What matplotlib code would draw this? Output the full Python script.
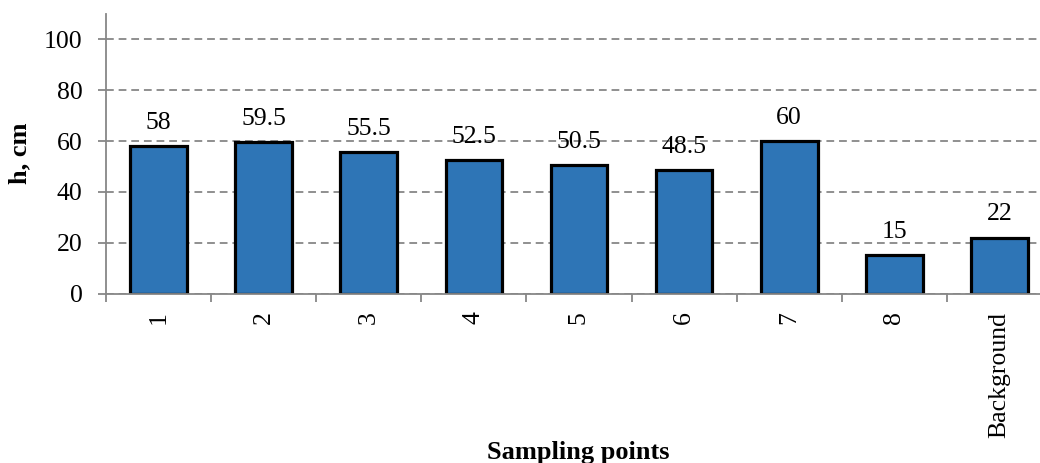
import numpy as np
import matplotlib.pyplot as plt

plt.rcParams['font.family'] = ['Liberation Serif', 'DejaVu Serif']

points = ['1', '2', '3', '4', '5', '6', '7', '8', 'Background']
heights = [58, 59.5, 55.5, 52.5, 50.5, 48.5, 60, 15, 22]
value_labels = ['58', '59.5', '55.5', '52.5', '50.5', '48.5', '60', '15', '22']

fig = plt.figure(figsize=(10.4, 4.63), dpi=100)
# axes runs slightly past the right edge of the canvas
ax = fig.add_axes([106 / 1040, (463 - 293.5) / 463, 946 / 1040, 279.5 / 463])

x = np.arange(len(points))
ax.bar(x, heights, width=0.54, color='#2E75B6', edgecolor='black', linewidth=2.3, zorder=3)

for xi, h, lab in zip(x, heights, value_labels):
    ax.annotate(lab, (xi, h), xytext=(0, 9), textcoords='offset points',
                ha='center', va='bottom', fontsize=18.5, zorder=4)

ax.set_xlim(-0.5, len(points) - 0.5)
ax.set_ylim(0, 110)
ax.set_yticks(range(0, 101, 20))
ax.yaxis.grid(True, linestyle=(0, (4.3, 2.7)), color='#878787', linewidth=1.3, zorder=0)

ax.set_xticks(x)
ax.set_xticklabels(points, rotation=90, fontsize=18.5)
ax.set_xticks(np.arange(-0.5, len(points), 1), minor=True)
ax.tick_params(axis='x', which='major', length=0, pad=13)
ax.tick_params(axis='x', which='minor', length=6, width=1.3, color='#878787')
ax.tick_params(axis='y', length=6, width=1.3, color='#878787', labelsize=18.5, pad=11)

for side in ['top', 'right']:
    ax.spines[side].set_visible(False)
for side in ['left', 'bottom']:
    ax.spines[side].set_color('#878787')
    ax.spines[side].set_linewidth(1.3)
    ax.spines[side].set_zorder(5)

ax.set_ylabel('h, cm', fontsize=19, fontweight='bold', labelpad=9)
fig.text(578 / 1040, 1 - 452 / 463, 'Sampling points', ha='center', va='center',
         fontsize=19, fontweight='bold')

plt.savefig('out.png', dpi=100)
